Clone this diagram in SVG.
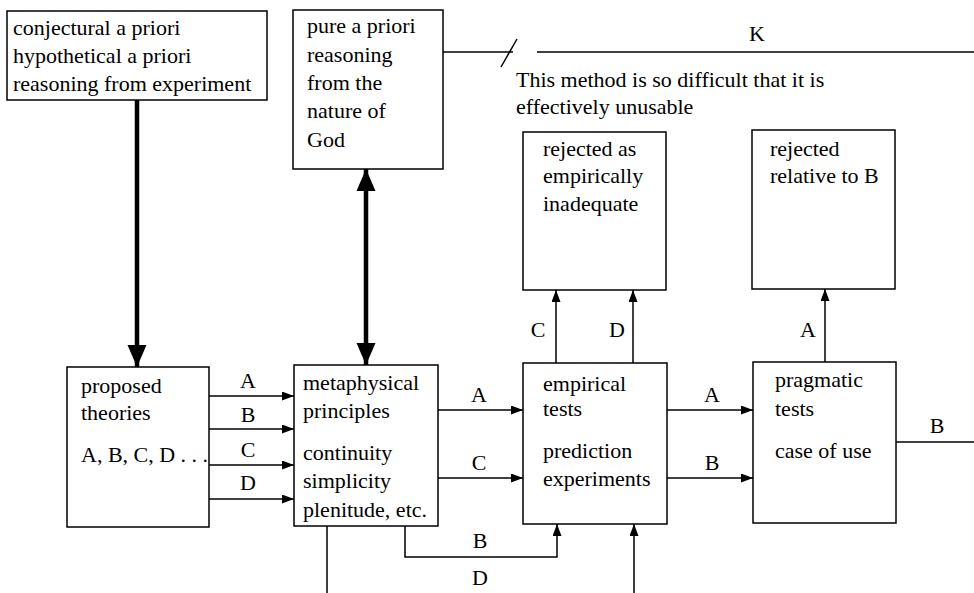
<svg xmlns="http://www.w3.org/2000/svg" width="974" height="593" viewBox="0 0 974 593">
<style>
  .box { fill: #fff; stroke: #000; stroke-width: 1.5; }
  .t { font-family: "Liberation Serif", "Times New Roman", serif; font-size: 22px; fill: #000; }
  .lbl { font-family: "Liberation Serif", "Times New Roman", serif; font-size: 22px; fill: #000; text-anchor: middle; }
  .thin { fill: none; stroke: #000; stroke-width: 1.5; }
  .thick { fill: none; stroke: #000; stroke-width: 4.5; }
</style>
<defs>
  <marker id="ah" markerUnits="userSpaceOnUse" markerWidth="13" markerHeight="10" refX="12" refY="4.5" orient="auto">
    <path d="M0,0 L12,4.5 L0,9 Z" fill="#000"/>
  </marker>
  <marker id="bigEnd" markerUnits="userSpaceOnUse" markerWidth="24" markerHeight="20" refX="22" refY="9.5" orient="auto">
    <path d="M0,0 L22,9.5 L0,19 Z" fill="#000"/>
  </marker>
  <marker id="bigStart" markerUnits="userSpaceOnUse" markerWidth="24" markerHeight="20" refX="0" refY="9.5" orient="auto">
    <path d="M22,0 L0,9.5 L22,19 Z" fill="#000"/>
  </marker>
</defs>

<rect width="974" height="593" fill="#fff"/>

<g id="connectors">
  <!-- thick arrows -->
  <line class="thick" x1="137" y1="100" x2="137" y2="367" marker-end="url(#bigEnd)"/>
  <line class="thick" x1="366" y1="169" x2="366" y2="365" marker-start="url(#bigStart)" marker-end="url(#bigEnd)"/>

  <!-- proposed -> metaphysical -->
  <line class="thin" x1="209" y1="396" x2="294" y2="396" marker-end="url(#ah)"/>
  <line class="thin" x1="209" y1="429" x2="294" y2="429" marker-end="url(#ah)"/>
  <line class="thin" x1="209" y1="465" x2="294" y2="465" marker-end="url(#ah)"/>
  <line class="thin" x1="209" y1="499" x2="294" y2="499" marker-end="url(#ah)"/>
  <text class="lbl" x="248" y="388">A</text>
  <text class="lbl" x="248" y="422">B</text>
  <text class="lbl" x="248" y="457">C</text>
  <text class="lbl" x="248" y="490">D</text>

  <!-- metaphysical -> empirical -->
  <line class="thin" x1="438" y1="410" x2="523" y2="410" marker-end="url(#ah)"/>
  <line class="thin" x1="438" y1="478" x2="523" y2="478" marker-end="url(#ah)"/>
  <text class="lbl" x="479" y="402">A</text>
  <text class="lbl" x="479" y="470">C</text>

  <!-- empirical -> pragmatic -->
  <line class="thin" x1="667" y1="410" x2="753" y2="410" marker-end="url(#ah)"/>
  <line class="thin" x1="667" y1="478" x2="753" y2="478" marker-end="url(#ah)"/>
  <text class="lbl" x="712" y="402">A</text>
  <text class="lbl" x="712" y="470">B</text>

  <!-- pragmatic -> out B -->
  <line class="thin" x1="896" y1="442" x2="974" y2="442"/>
  <text class="lbl" x="937" y="433">B</text>

  <!-- empirical -> rejected as empirically inadequate -->
  <line class="thin" x1="556" y1="363" x2="556" y2="290" marker-end="url(#ah)"/>
  <line class="thin" x1="633" y1="363" x2="633" y2="290" marker-end="url(#ah)"/>
  <text class="lbl" x="538" y="337">C</text>
  <text class="lbl" x="617" y="337">D</text>

  <!-- pragmatic -> rejected relative to B -->
  <line class="thin" x1="825" y1="362" x2="825" y2="289" marker-end="url(#ah)"/>
  <text class="lbl" x="808" y="337">A</text>

  <!-- metaphysical -> empirical (B, D below) -->
  <path class="thin" d="M405,526 L405,557 L557,557 L557,524" marker-end="url(#ah)"/>
  <text class="lbl" x="480" y="548">B</text>
  <path class="thin" d="M327,526 L327,600 L634,600 L634,524" marker-end="url(#ah)"/>
  <text class="lbl" x="480" y="585">D</text>

  <!-- pure a priori -> K (broken) -->
  <line class="thin" x1="443" y1="52" x2="513" y2="52"/>
  <line class="thin" x1="501" y1="67" x2="517" y2="39"/>
  <line class="thin" x1="537" y1="52" x2="974" y2="52"/>
  <text class="lbl" x="757" y="41">K</text>
</g>

<g id="note">
  <text class="t" x="516" y="87">This method is so difficult that it is</text>
  <text class="t" x="516" y="114">effectively unusable</text>
</g>

<g id="conjectural">
  <rect class="box" x="7" y="11" width="260" height="89"/>
  <text class="t" x="13" y="35">conjectural a priori</text>
  <text class="t" x="13" y="63">hypothetical a priori</text>
  <text class="t" x="13" y="91">reasoning from experiment</text>
</g>

<g id="pure">
  <rect class="box" x="293" y="10" width="150" height="159"/>
  <text class="t" x="307" y="33">pure a priori</text>
  <text class="t" x="307" y="62">reasoning</text>
  <text class="t" x="307" y="90">from the</text>
  <text class="t" x="307" y="118">nature of</text>
  <text class="t" x="307" y="147">God</text>
</g>

<g id="rejected-empirical">
  <rect class="box" x="523" y="132" width="143" height="158"/>
  <text class="t" x="543" y="156">rejected as</text>
  <text class="t" x="543" y="183">empirically</text>
  <text class="t" x="543" y="211">inadequate</text>
</g>

<g id="rejected-relative">
  <rect class="box" x="752" y="130" width="143" height="159"/>
  <text class="t" x="770" y="156">rejected</text>
  <text class="t" x="770" y="183">relative to B</text>
</g>

<g id="proposed">
  <rect class="box" x="67" y="367" width="142" height="160"/>
  <text class="t" x="81" y="393">proposed</text>
  <text class="t" x="81" y="420">theories</text>
  <text class="t" x="81" y="462">A, B, C, D . . .</text>
</g>

<g id="metaphysical">
  <rect class="box" x="294" y="365" width="144" height="161"/>
  <text class="t" x="303" y="390">metaphysical</text>
  <text class="t" x="303" y="418">principles</text>
  <text class="t" x="303" y="460">continuity</text>
  <text class="t" x="303" y="488">simplicity</text>
  <text class="t" x="303" y="517">plenitude, etc.</text>
</g>

<g id="empirical">
  <rect class="box" x="523" y="363" width="144" height="161"/>
  <text class="t" x="543" y="391">empirical</text>
  <text class="t" x="543" y="416">tests</text>
  <text class="t" x="543" y="458">prediction</text>
  <text class="t" x="543" y="486">experiments</text>
</g>

<g id="pragmatic">
  <rect class="box" x="753" y="362" width="143" height="161"/>
  <text class="t" x="775" y="387">pragmatic</text>
  <text class="t" x="775" y="416">tests</text>
  <text class="t" x="775" y="458">case of use</text>
</g>
</svg>
